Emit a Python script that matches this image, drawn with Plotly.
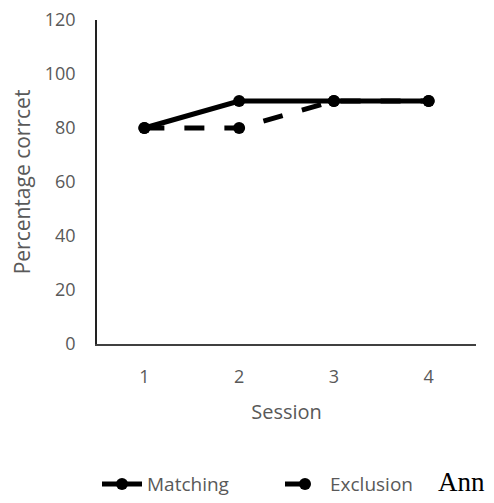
import plotly.graph_objects as go

sessions = [1, 2, 3, 4]
matching = [80, 90, 90, 90]
exclusion = [80, 80, 90, 90]
y_ticks = [0, 20, 40, 60, 80, 100, 120]

fig = go.Figure()
fig.add_trace(go.Scatter(
    x=sessions, y=exclusion, name="Exclusion", mode="lines+markers",
    line=dict(color="black", width=5, dash="20px,20px"),
    marker=dict(color="black", size=12),
))
fig.add_trace(go.Scatter(
    x=sessions, y=matching, name="Matching", mode="lines+markers",
    line=dict(color="black", width=5),
    marker=dict(color="black", size=12),
))

grey = "#595959"
# page body adds an 8px offset, so the figure is sized to fit the rest of the window
fig.update_layout(
    width=486, height=495,
    margin=dict(l=89, r=18, t=12, b=159, autoexpand=False),
    plot_bgcolor="white", paper_bgcolor="white",
    font=dict(family="Open Sans, Liberation Sans, sans-serif", color=grey, size=18),
    xaxis=dict(
        range=[0.5, 4.5], tickvals=sessions, ticktext=[str(s) for s in sessions],
        showgrid=False, zeroline=False, showline=True, linecolor="#404040", linewidth=1.5,
        ticks="", ticklabelstandoff=16, automargin=False, ticklabeloverflow="allow",
        tickfont=dict(size=18, color=grey),
        title=dict(text="Session", font=dict(size=20, color=grey), standoff=18),
    ),
    yaxis=dict(
        range=[0, 120], tickvals=y_ticks,
        showgrid=False, zeroline=False, showline=True, linecolor="#222222", linewidth=1.5,
        ticks="", ticklabelstandoff=16, automargin=False, ticklabeloverflow="allow",
        tickfont=dict(size=18, color=grey),
        title=dict(text="Percentage corrcet", font=dict(size=21, color=grey), standoff=12),
    ),
    legend=dict(
        orientation="h", x=0.0, y=-0.374, xanchor="left", yanchor="top",
        traceorder="reversed", font=dict(size=19, color=grey),
        itemwidth=40, entrywidth=128, entrywidthmode="pixels",
    ),
    showlegend=True,
)
fig.add_annotation(
    text="Ann", xref="paper", yref="paper", x=1.028, y=-0.426,
    xanchor="right", yanchor="middle", showarrow=False,
    font=dict(family="Liberation Serif, serif", size=27, color="black"),
)
fig.write_html("out.html")
